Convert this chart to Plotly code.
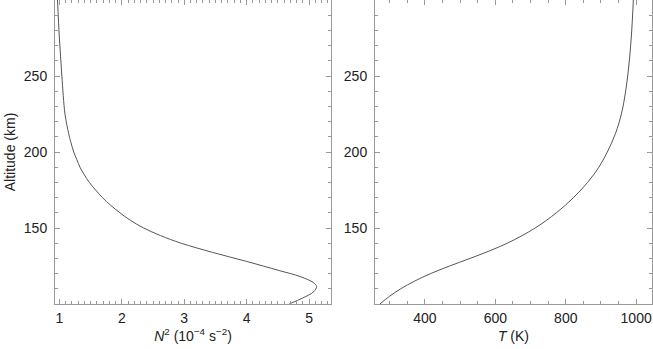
import plotly.graph_objects as go

# Left panel: buoyancy frequency squared vs altitude
alt_n2 = [100, 104, 108, 111.5, 114, 118, 122, 128, 134, 140, 145, 150, 155, 160,
          165, 170, 175, 180, 185, 190, 195, 200, 207, 212, 225, 250, 275, 300]
n2 = [4.68, 4.90, 5.07, 5.12, 5.07, 4.86, 4.52, 4.00, 3.45, 2.95, 2.62, 2.35, 2.14,
      1.97, 1.82, 1.69, 1.58, 1.48, 1.40, 1.33, 1.28, 1.23, 1.18, 1.15, 1.09, 1.04, 1.00, 0.97]

# Right panel: temperature vs altitude
alt_t = [100, 105, 110, 115, 120, 125, 130, 135, 140, 145, 150, 155, 160, 165, 170,
         175, 180, 185, 190, 200, 212, 227, 250, 275, 300]
temp = [272, 299, 331, 370, 416, 470, 528, 584, 634, 676, 713, 745, 773, 799, 822,
        843, 862, 879, 894, 918, 941, 960, 976, 986, 992]

x1_ticks = [1, 2, 3, 4, 5]
x2_ticks = [400, 600, 800, 1000]
y_ticks = [150, 200, 250]

line_col = "#555555"
axis_col = "#999999"
font_fam = "Liberation Sans, Arial, sans-serif"

fig = go.Figure()
fig.add_trace(go.Scatter(x=n2, y=alt_n2, mode="lines", line=dict(color=line_col, width=1, shape="spline"),
                         xaxis="x", yaxis="y", showlegend=False))
fig.add_trace(go.Scatter(x=temp, y=alt_t, mode="lines", line=dict(color=line_col, width=1, shape="spline"),
                         xaxis="x2", yaxis="y2", showlegend=False))

common_axis = dict(showgrid=False, zeroline=False, showline=True, linecolor=axis_col, linewidth=1,
                   mirror="ticks", ticks="inside", ticklen=5, tickcolor=axis_col, tickwidth=1,
                   tickfont=dict(family=font_fam, size=14, color="#222222"))

fig.update_layout(
    width=653, height=349,
    margin=dict(l=55, r=1, t=0, b=45),
    paper_bgcolor="white", plot_bgcolor="white",
    font=dict(family=font_fam, size=14, color="#222222"),
    xaxis=dict(domain=[0, 0.4623], range=[0.93, 5.35], tickvals=x1_ticks,
               minor=dict(dtick=0.1, ticklen=3, tickcolor=axis_col, ticks="inside"),
               title=dict(text="<i>N</i><sup>2</sup> (10<sup>−4</sup> s<sup>−2</sup>)", standoff=6,
                          font=dict(size=14)),
               ticklabelstandoff=1, **common_axis),
    yaxis=dict(anchor="x", range=[100, 300], tickvals=y_ticks,
               minor=dict(dtick=10, ticklen=3, tickcolor=axis_col, ticks="inside"),
               title=dict(text="Altitude (km)", standoff=4, font=dict(size=14)),
               ticklabelstandoff=4, **common_axis),
    xaxis2=dict(domain=[0.536, 1], range=[258, 1045], tickvals=x2_ticks, anchor="y2",
                minor=dict(dtick=50, ticklen=3, tickcolor=axis_col, ticks="inside"),
                title=dict(text="<i>T</i> (K)", standoff=6, font=dict(size=14)),
                ticklabelstandoff=1, **common_axis),
    yaxis2=dict(anchor="x2", range=[100, 300], tickvals=y_ticks,
                minor=dict(dtick=10, ticklen=3, tickcolor=axis_col, ticks="inside"),
                ticklabelstandoff=4, **common_axis),
)

fig.write_html("out.html", config={"displayModeBar": False},
               post_script="document.body.style.margin='0';document.body.style.overflow='hidden';")
